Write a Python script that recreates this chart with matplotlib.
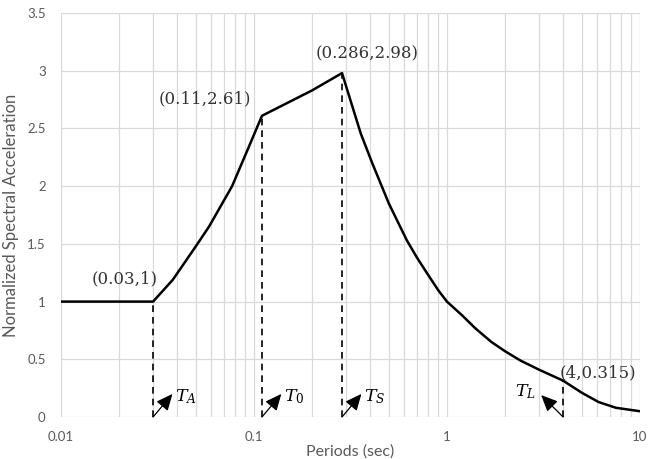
import numpy as np
import matplotlib
matplotlib.use("Agg")
import matplotlib.pyplot as plt
from matplotlib.ticker import FixedLocator, LogLocator, NullFormatter

# spectrum
periods = [0.01, 0.03, 0.038, 0.05, 0.0585, 0.077, 0.094, 0.11, 0.2, 0.286,
           0.357, 0.41, 0.5, 0.62, 0.7, 0.8, 0.9, 1.0, 1.2, 1.4, 1.7, 2.0, 2.4, 3.0, 4.0,
           5.0, 6.1, 7.5, 10.0]
accel = [1.0, 1.0, 1.19, 1.48, 1.65, 2.0, 2.34, 2.61, 2.83, 2.98,
         2.46, 2.2, 1.85, 1.53, 1.38, 1.23, 1.1, 1.0, 0.88, 0.77, 0.65, 0.57, 0.49, 0.41,
         0.315, 0.21, 0.13, 0.08, 0.05]

# corner points and their labels
corner_T = [0.03, 0.11, 0.286, 4.0]
corner_S = [1.0, 2.61, 2.98, 0.315]
corner_text = ["(0.03,1)", "(0.11,2.61)", "(0.286,2.98)", "(4,0.315)"]
corner_text_pos = [(0.0214, 1.2), (0.0558, 2.76), (0.385, 3.15), (6.05, 0.38)]
period_names = ["$T_A$", "$T_0$", "$T_S$", "$T_L$"]

plt.rcParams["mathtext.fontset"] = "dejavuserif"

fig = plt.figure(figsize=(6.49, 4.59), dpi=100)
ax = fig.add_axes([0.094, 0.0915, 0.892, 0.88])

ax.plot(periods, accel, color="black", lw=1.8, zorder=3)

for T, S in zip(corner_T, corner_S):
    ax.plot([T, T], [0, S], color="black", lw=1.2, ls=(0, (4, 3)), zorder=3)

for txt, (x, y) in zip(corner_text, corner_text_pos):
    ax.text(x, y, txt, ha="center", va="center", fontsize=12,
            family="DejaVu Serif", color="#333333")

# arrows pointing at the periods
arrow = dict(arrowstyle="-|>,head_length=1.0,head_width=0.45", color="black", lw=0.9,
             shrinkA=0, shrinkB=0)
for T, name in zip(corner_T[:3], period_names[:3]):
    ax.annotate("", xy=(T * 1.26, 0.2), xytext=(T, 0.0), arrowprops=arrow, zorder=4)
    ax.text(T * 1.3, 0.18, name, ha="left", va="center", fontsize=12.5)
ax.annotate("", xy=(4.0 / 1.3, 0.19), xytext=(4.0, 0.0), arrowprops=arrow, zorder=4)
ax.text(4.0 / 1.38, 0.22, period_names[3], ha="right", va="center", fontsize=12.5)

ax.set_xscale("log")
ax.set_xlim(0.01, 10)
ax.set_ylim(0, 3.5)
ax.xaxis.set_major_locator(FixedLocator([0.01, 0.1, 1, 10]))
ax.set_xticklabels(["0.01", "0.1", "1", "10"])
ax.xaxis.set_minor_locator(LogLocator(base=10, subs=np.arange(2, 10)))
ax.xaxis.set_minor_formatter(NullFormatter())
ax.set_yticks(np.arange(0, 3.51, 0.5))
ax.set_yticklabels(["0", "0.5", "1", "1.5", "2", "2.5", "3", "3.5"])

ax.grid(True, which="both", axis="x", color="#d9d9d9", lw=0.9)
ax.grid(True, which="major", axis="y", color="#d9d9d9", lw=0.9)
for s in ax.spines.values():
    s.set_visible(False)
ax.tick_params(which="both", length=0, colors="#595959", labelsize=9.5)
ax.tick_params(axis="x", pad=10)
ax.tick_params(axis="y", pad=11)
for lab in ax.get_xticklabels() + ax.get_yticklabels():
    lab.set_family("Lato")

ax.set_xlabel("Periods (sec)", fontsize=11.5, family="Lato", color="#595959", labelpad=1)
ax.set_ylabel("Normalized Spectral Acceleration", fontsize=12, family="Lato",
              color="#595959", labelpad=6)

fig.savefig("out.png", dpi=100)
